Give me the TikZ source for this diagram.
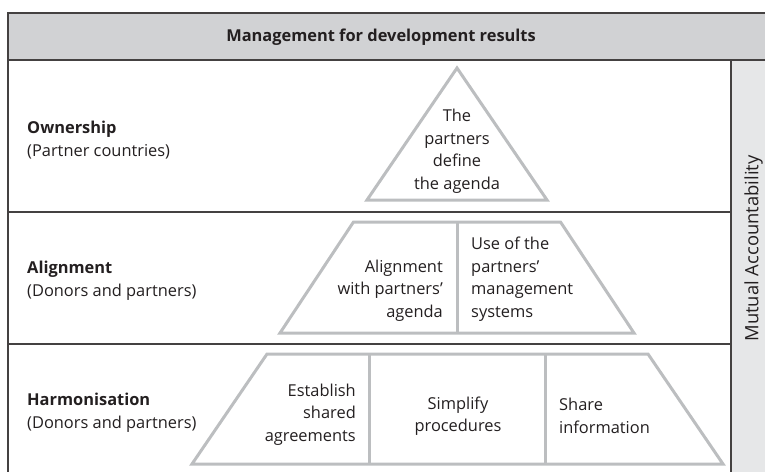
\documentclass[tikz,border=0pt]{standalone}
\usepackage{fontspec}
\setmainfont{Open Sans}
\definecolor{headgray}{HTML}{D1D2D4}
\definecolor{sidegray}{HTML}{E6E7E8}
\definecolor{blockgray}{HTML}{BCBEC0}
\definecolor{inkgray}{HTML}{231F20}
\begin{document}
\begin{tikzpicture}[x=1pt,y=-1pt,
  rule/.style={draw=inkgray!85, line width=1.1pt},
  block/.style={draw=blockgray, line width=3pt, line join=miter},
  divider/.style={draw=blockgray, line width=3pt},
  txt/.style={font=\fontsize{16.4}{22.5}\selectfont, text=inkgray, inner sep=0pt},
  lbl/.style={font=\fontsize{16.4}{23}\selectfont, text=inkgray, inner sep=0pt, align=left, anchor=west},
  head/.style={font=\bfseries\fontsize{16.4}{18}\selectfont, text=inkgray, inner sep=0pt}]
\useasboundingbox (0,0) rectangle (765,471);

% header band and side column
\fill[headgray] (8,13) rectangle (770,60);
\fill[sidegray] (731,60) rectangle (770,475);
\draw[rule] (770,13) -- (8,13) -- (8,475);
\draw[rule] (8,60) -- (770,60);
\draw[rule] (731,60) -- (731,475);
\draw[rule] (8,212) -- (731,212);
\draw[rule] (8,344) -- (731,344);

\node[head] (title) at (381,37) {Management for development results};
\node[font=\fontsize{18.4}{20}\selectfont, text=inkgray, inner sep=0pt, rotate=90] (mutual) at (753.5,248.5) {Mutual Accountability};

% row labels
\node[lbl] (own) at (27,140) {\textbf{Ownership}\\(Partner countries)};
\node[lbl] (ali) at (27,281) {\textbf{Alignment}\\(Donors and partners)};
\node[lbl] (har) at (27,413) {\textbf{Harmonisation}\\(Donors and partners)};

% pyramid blocks
\draw[block] (457,68) -- (547,200) -- (367,200) -- cycle;
\draw[block] (353.5,222) -- (560.5,222) -- (634,333) -- (280,333) -- cycle;
\draw[divider] (457,222) -- (457,333);
\draw[block] (267,354) -- (648,354) -- (723,464) -- (192,464) -- cycle;
\draw[divider] (369,354) -- (369,464);
\draw[divider] (545,354) -- (545,464);

% block texts
\node[txt, align=center] (agenda) at (457,151) {The\\partners\\define\\the agenda};
\node[txt, align=right, anchor=east] (withagenda) at (443,290.5) {Alignment\\with partners'\\agenda};
\node[txt, align=left, anchor=west] (systems) at (471,279) {Use of the\\partners'\\management\\systems};
\node[txt, align=right, anchor=east] (shared) at (356,414.5) {Establish\\shared\\agreements};
\node[txt, align=center] (simplify) at (458,416) {Simplify\\procedures};
\node[txt, align=left, anchor=west] (share) at (559,416) {Share\\information};
\end{tikzpicture}
\end{document}
